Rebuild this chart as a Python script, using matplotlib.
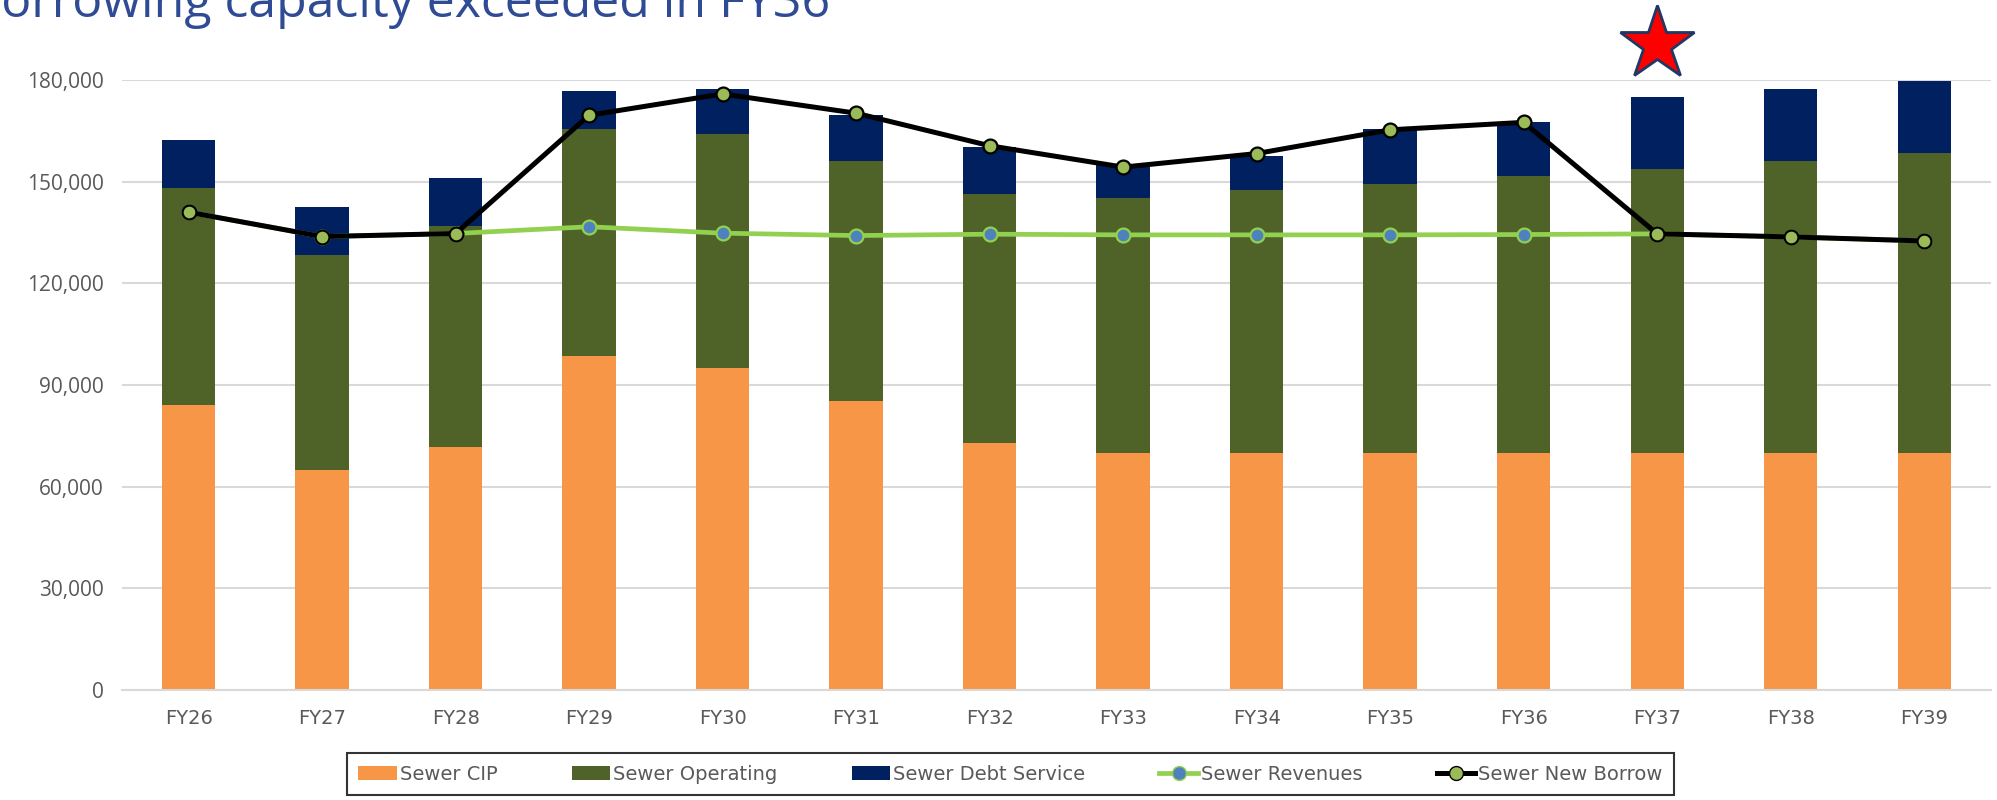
import matplotlib
matplotlib.use("Agg")
import matplotlib.pyplot as plt
import matplotlib.transforms as mtransforms
from matplotlib.patches import Patch
from matplotlib.lines import Line2D
from matplotlib.ticker import FuncFormatter

years = ["FY26", "FY27", "FY28", "FY29", "FY30", "FY31", "FY32",
         "FY33", "FY34", "FY35", "FY36", "FY37", "FY38", "FY39"]

sewer_cip = [84000, 65000, 71700, 98500, 95100, 85300, 72900,
             70000, 70000, 70000, 70000, 70000, 70000, 70000]
sewer_operating = [64100, 63300, 65200, 66900, 69100, 70900, 73400,
                   75300, 77400, 79400, 81600, 83800, 86200, 88600]
sewer_debt = [14200, 14300, 14200, 11300, 13200, 13500, 14000,
              9500, 10200, 16000, 15900, 21200, 21100, 21100]
sewer_revenues = [141000, 133800, 134700, 136700, 134800, 134100, 134500,
                  134300, 134300, 134300, 134400, 134600, 133700, 132500]
sewer_new_borrow = [141000, 133800, 134700, 169600, 175900, 170200, 160600,
                    154300, 158300, 165300, 167500, 134600, 133700, 132500]

C_CIP = "#F79646"
C_OPER = "#4F6228"
C_DEBT = "#002060"
C_REV = "#92D050"
C_REV_MK = "#4F81BD"
C_BOR_MK = "#9BBB59"
C_GRID = "#D9D9D9"
C_TEXT = "#595959"

fig = plt.figure(figsize=(19.97, 8.0), dpi=100)
ax = fig.add_axes([0.061, 0.1375, 0.936, 0.7625])

x = list(range(len(years)))
w = 0.4
oper_bottom = sewer_cip
debt_bottom = [a + b for a, b in zip(sewer_cip, sewer_operating)]

ax.bar(x, sewer_cip, width=w, color=C_CIP, zorder=2)
ax.bar(x, sewer_operating, width=w, bottom=oper_bottom, color=C_OPER, zorder=2)
ax.bar(x, sewer_debt, width=w, bottom=debt_bottom, color=C_DEBT, zorder=2)

ax.plot(x, sewer_revenues, color=C_REV, lw=3.4, marker="o", ms=10,
        mfc=C_REV_MK, mec=C_REV, mew=1.6, zorder=3)
ax.plot(x, sewer_new_borrow, color="black", lw=3.6, marker="o", ms=10,
        mfc=C_BOR_MK, mec="black", mew=1.6, zorder=4)

ax.set_xlim(-0.5, len(years) - 0.5)
ax.set_ylim(0, 180000)
ax.set_yticks(range(0, 180001, 30000))
ax.yaxis.set_major_formatter(FuncFormatter(lambda v, p: f"{int(v):,}"))
ax.set_xticks(x)
ax.set_xticklabels(years, fontsize=14, color=C_TEXT)
for lbl in ax.get_yticklabels():
    lbl.set_family("Open Sans")
    lbl.set_fontsize(15)
    lbl.set_color(C_TEXT)
ax.tick_params(axis="both", length=0)
ax.tick_params(axis="x", pad=14)
ax.tick_params(axis="y", pad=13)
ax.grid(axis="y", color=C_GRID, lw=1.5, zorder=0)
for side in ["top", "right", "left"]:
    ax.spines[side].set_visible(False)
ax.spines["bottom"].set_color(C_GRID)
ax.spines["bottom"].set_linewidth(1.5)

# star flag over FY37
star_tr = mtransforms.blended_transform_factory(ax.transData, fig.transFigure)
ax.plot([11], [0.9455], transform=star_tr, marker="*", ms=56,
        mfc="#FF0000", mec="#1F3864", mew=2.0, clip_on=False, zorder=5)

fig.text(0.4156, 0.979, "Borrowing capacity exceeded in FY36",
         ha="right", va="baseline", fontsize=36, color="#2E4B94",
         family="Open Sans")

handles = [
    Patch(facecolor=C_CIP, label="Sewer CIP"),
    Patch(facecolor=C_OPER, label="Sewer Operating"),
    Patch(facecolor=C_DEBT, label="Sewer Debt Service"),
    Line2D([], [], color=C_REV, lw=3.4, marker="o", ms=10, mfc=C_REV_MK,
           mec=C_REV, label="Sewer Revenues"),
    Line2D([], [], color="black", lw=3.6, marker="o", ms=10, mfc=C_BOR_MK,
           mec="black", label="Sewer New Borrow"),
]
leg = fig.legend(handles=handles, loc="center", bbox_to_anchor=(0.506, 0.0325),
                 ncol=5, frameon=True, fancybox=False, handlelength=2.0,
                 handletextpad=0.15, columnspacing=3.8, borderpad=0.6,
                 borderaxespad=0, prop={"size": 14})
leg.get_frame().set_edgecolor("black")
leg.get_frame().set_linewidth(1.5)
for t in leg.get_texts():
    t.set_color(C_TEXT)

fig.savefig("out.png", dpi=100)
